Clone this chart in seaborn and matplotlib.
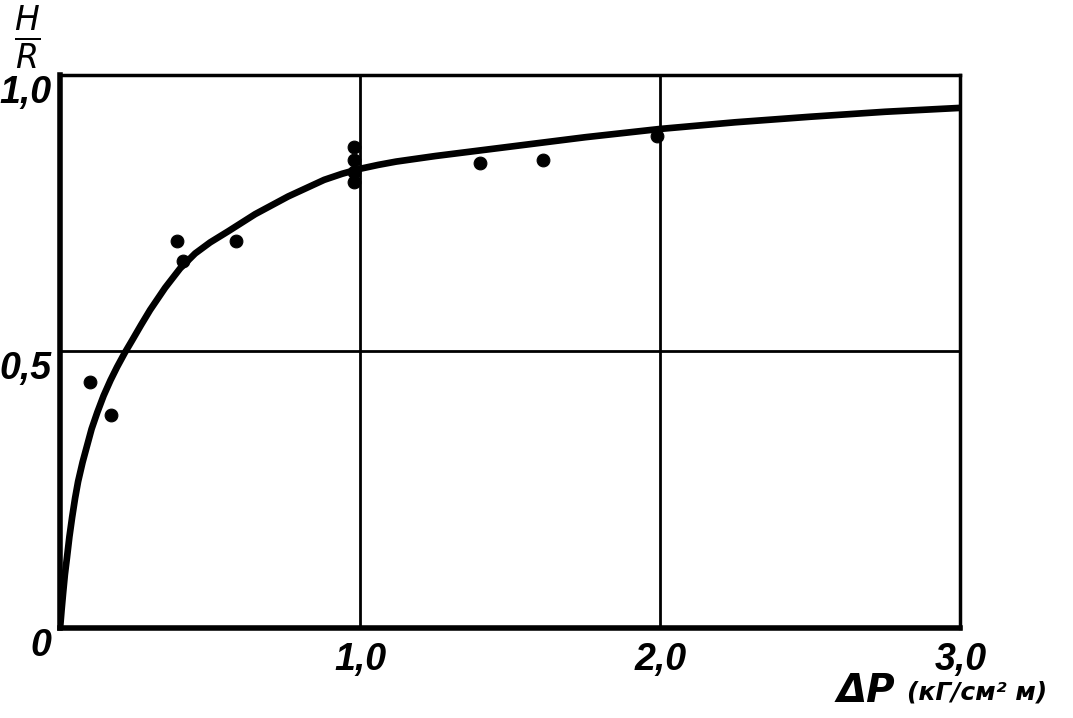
import matplotlib
matplotlib.use("Agg")
import matplotlib.pyplot as plt
import seaborn as sns
import pandas as pd

pts_x = [0.10, 0.17, 0.39, 0.41, 0.585, 0.98, 0.98, 0.98, 0.98, 1.40, 1.61, 1.99]
pts_y = [0.445, 0.385, 0.70, 0.664, 0.70, 0.87, 0.846, 0.825, 0.807, 0.84, 0.845, 0.89]

# fitted curve, read at a set of x positions
curve_x = [0.0, 0.005, 0.01, 0.016, 0.023, 0.031, 0.04, 0.05, 0.06, 0.075, 0.09,
           0.105, 0.124, 0.145, 0.168, 0.19, 0.215, 0.24, 0.27, 0.30, 0.35, 0.40,
           0.45, 0.50, 0.56, 0.65, 0.76, 0.88, 0.94, 1.00, 1.06, 1.12, 1.25, 1.50,
           1.75, 2.00, 2.25, 2.50, 2.75, 3.00]
curve_y = [0.0, 0.033, 0.063, 0.097, 0.128, 0.165, 0.20, 0.235, 0.265, 0.30, 0.33,
           0.36, 0.39, 0.42, 0.448, 0.472, 0.497, 0.52, 0.548, 0.575, 0.615, 0.65,
           0.677, 0.697, 0.717, 0.748, 0.78, 0.81, 0.821, 0.83, 0.837, 0.843, 0.853,
           0.87, 0.887, 0.902, 0.914, 0.924, 0.933, 0.94]

x_ticks = [1, 2, 3]
x_labels = ["1,0", "2,0", "3,0"]
y_ticks = [0, 0.5, 1.0]
y_labels = ["0", "0,5", "1,0"]

pts = pd.DataFrame({"dp": pts_x, "hr": pts_y})
curve = pd.DataFrame({"dp": curve_x, "hr": curve_y})

sns.set_style("white")
plt.rcParams["font.family"] = ["Liberation Sans", "DejaVu Sans"]
plt.rcParams["text.color"] = "black"

fig = plt.figure(figsize=(10.73, 7.18), dpi=100)
ax = fig.add_axes([0.056, 0.125, 0.839, 0.771])

sns.lineplot(data=curve, x="dp", y="hr", color="black", linewidth=4.8, ax=ax,
             solid_joinstyle="round", solid_capstyle="round")
sns.scatterplot(data=pts, x="dp", y="hr", color="black", s=85, edgecolor="black", ax=ax, zorder=3)

ax.set_xlim(0, 3.0)
ax.set_ylim(0, 1.0)
for g in [1, 2]:
    ax.axvline(g, color="black", linewidth=2, zorder=1)
ax.axhline(0.5, color="black", linewidth=2, zorder=1)

ax.set_xticks(x_ticks)
ax.set_xticklabels(x_labels, fontsize=27, style="italic", fontweight="bold", color="black")
ax.set_yticks(y_ticks)
ax.set_yticklabels(y_labels, fontsize=27, style="italic", fontweight="bold", color="black")
ax.tick_params(length=0)
ax.tick_params(axis="x", pad=10)
ax.tick_params(axis="y", pad=6)
for lab in ax.get_yticklabels():
    lab.set_verticalalignment("top")
ax.set_xlabel("")
ax.set_ylabel("")

for side in ["left", "bottom"]:
    ax.spines[side].set_linewidth(4)
for side in ["top", "right"]:
    ax.spines[side].set_linewidth(2.5)
for s in ax.spines.values():
    s.set_color("black")

fig.text(0.026, 0.995, r"$\mathbf{\mathit{\frac{H}{R}}}$", fontsize=34, ha="center", va="top")
fig.text(0.78, 0.022, "ΔP", fontsize=28, style="italic", fontweight="bold", family="DejaVu Sans")
fig.text(0.845, 0.026, "(кГ/см² м)", fontsize=18, style="italic", fontweight="bold",
         family="DejaVu Sans")

fig.savefig("out.png", dpi=100)
